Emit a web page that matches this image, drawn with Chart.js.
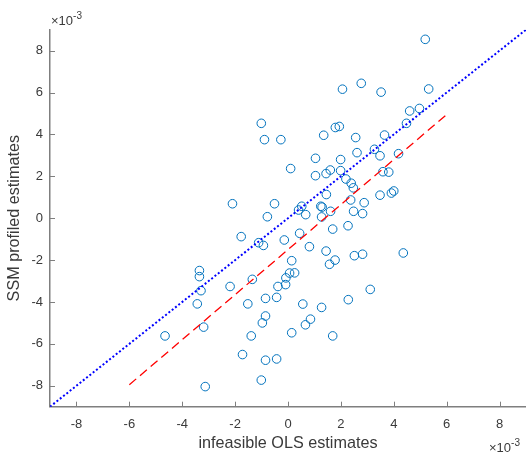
<!DOCTYPE html>
<html>
<head>
<meta charset="utf-8">
<script src="https://cdn.jsdelivr.net/npm/chart.js@4/dist/chart.umd.min.js"></script>
<style>
  html, body { margin: 0; padding: 0; background: #fff; }
  #wrap { width: 526px; height: 458px; }
</style>
</head>
<body>
<div id="wrap"><canvas id="chart"></canvas></div>
<script>
// values in units of 1e-3
const olsEst = [
  -1.01, -0.89, -0.27, 0.10, -2.10, -0.51, -0.78, 1.04, 1.04, 5.19,
  2.77, 2.06, 3.52, 5.32, 4.60, 4.97, 4.48, 1.79, 1.94, 1.35,
  2.56, 3.65, 3.27, 2.61, 3.48, 4.18, 1.99, 1.44, 1.60, 1.99,
  3.59, 3.81, 2.19, 2.39, 2.47, 1.45, 3.48, 3.91, 4.00, 2.37,
  2.88, 0.52, 0.40, 1.24, 1.29, 0.67, 1.61, 2.48, 2.82, 1.27,
  -1.77, -1.11, -0.93, -0.14, 0.44, 1.69, 2.27, 0.81, 1.44, 2.51,
  2.82, 4.36, 1.57, 1.78, 0.14, -3.35, -3.35, -3.29, -2.19, -1.35,
  -0.38, -0.09, -0.08, 0.06, 0.25, -3.43, -1.52, -0.85, -0.43, -0.85,
  -0.97, -3.19, -4.65, -1.39, 0.14, -1.72, -0.85, -0.43, -1.01, -3.13,
  0.56, 1.27, 2.28, 3.11, 0.85, 0.66, 1.69
];
const ssmEst = [
  4.53, 3.75, 3.75, 2.37, 0.69, 0.69, 0.07, 2.86, 2.03, 8.54,
  6.44, 6.16, 6.02, 6.17, 5.12, 5.24, 4.53, 4.33, 4.38, 3.96,
  3.85, 3.97, 3.29, 3.13, 2.98, 3.08, 2.80, 2.13, 2.30, 2.27,
  2.22, 2.20, 1.87, 1.67, 1.45, 1.13, 1.10, 1.20, 1.30, 0.87,
  0.74, 0.57, 0.39, 0.57, 0.53, 0.17, 0.33, 0.33, 0.22, 0.06,
  -0.88, -1.17, -1.30, -1.04, -0.72, -0.52, -0.36, -1.36, -1.57, -1.79,
  -1.72, -1.66, -2.20, -2.00, -2.03, -2.50, -2.79, -3.46, -3.26, -2.92,
  -3.26, -3.17, -2.85, -2.62, -2.61, -4.09, -4.09, -3.83, -3.78, -4.67,
  -5.00, -5.20, -5.62, -5.62, -5.47, -6.51, -6.78, -6.72, -7.73, -8.04,
  -4.10, -4.26, -3.89, -3.40, -4.82, -5.09, -5.62
];
// 45 degree reference line and fitted line
const diagX = [-9, 9];
const diagY = [-9, 9];
const fitX = [-6, 6];
const fitY = [-7.95, 4.95];

const tickVals = [-8, -6, -4, -2, 0, 2, 4, 6, 8];
const axisMin = -9, axisMax = 9;

const axisColor = '#7f7f7f';
const textColor = '#3a3a3a';
const markerColor = '#0072BD';

Chart.defaults.font.family = '"Liberation Sans", Arial, Helvetica, sans-serif';
Chart.defaults.color = textColor;

const toPts = (xs, ys) => xs.map((v, i) => ({x: v, y: ys[i]}));

function drawExp(ctx, x, y) {
  ctx.font = '13px "Liberation Sans", Arial, sans-serif';
  ctx.fillStyle = textColor;
  ctx.textAlign = 'left';
  ctx.textBaseline = 'alphabetic';
  ctx.fillText('\u00d710', x, y);
  const w = ctx.measureText('\u00d710').width;
  ctx.font = '10px "Liberation Sans", Arial, sans-serif';
  ctx.fillText('-3', x + w, y - 6);
}

// MATLAB-style inward tick marks + exponent labels
const extras = {
  id: 'extras',
  afterDraw(chart) {
    const {ctx, chartArea, scales} = chart;
    ctx.save();
    ctx.strokeStyle = axisColor;
    ctx.lineWidth = 1;
    ctx.beginPath();
    tickVals.forEach(v => {
      const px = Math.round(scales.x.getPixelForValue(v)) + 0.5;
      ctx.moveTo(px, chartArea.bottom);
      ctx.lineTo(px, chartArea.bottom - 5);
      const py = Math.round(scales.y.getPixelForValue(v)) + 0.5;
      ctx.moveTo(chartArea.left, py);
      ctx.lineTo(chartArea.left + 5, py);
    });
    ctx.stroke();
    drawExp(ctx, chartArea.left + 1, 25);
    drawExp(ctx, 489, 452);
    ctx.restore();
  }
};

new Chart(document.getElementById('chart'), {
  type: 'scatter',
  data: {
    datasets: [
      {
        label: '45 degree',
        data: toPts(diagX, diagY),
        showLine: true,
        borderColor: '#0000ff',
        borderWidth: 2,
        borderDash: [2, 2.2],
        pointRadius: 0,
        fill: false
      },
      {
        label: 'fit',
        data: toPts(fitX, fitY),
        showLine: true,
        borderColor: '#ff0000',
        borderWidth: 1.3,
        borderDash: [9, 5],
        pointRadius: 0,
        fill: false
      },
      {
        label: 'estimates',
        data: toPts(olsEst, ssmEst),
        pointStyle: 'circle',
        pointRadius: 4.3,
        pointBorderWidth: 1,
        borderColor: markerColor,
        backgroundColor: 'rgba(0,0,0,0)'
      }
    ]
  },
  options: {
    responsive: true,
    maintainAspectRatio: false,
    animation: false,
    layout: { autoPadding: false, padding: { top: 29.7, right: 0, left: 0, bottom: 0 } },
    plugins: { legend: { display: false }, tooltip: { enabled: false } },
    scales: {
      x: {
        type: 'linear',
        min: axisMin,
        max: axisMax,
        afterBuildTicks: s => { s.ticks = tickVals.map(v => ({value: v})); },
        afterFit: s => { s.height = 51.3; s.paddingLeft = 0; s.paddingRight = 0; },
        grid: { display: false, drawTicks: false },
        border: { display: true, color: axisColor, width: 1.5 },
        ticks: { padding: 10, font: { size: 13 }, color: textColor, maxRotation: 0 },
        title: { display: true, text: 'infeasible OLS estimates', font: { size: 16.2 }, color: textColor, padding: { top: 0, bottom: 5 } }
      },
      y: {
        type: 'linear',
        min: axisMin,
        max: axisMax,
        afterBuildTicks: s => { s.ticks = tickVals.map(v => ({value: v})); },
        afterFit: s => { s.width = 50; s.paddingTop = 0; s.paddingBottom = 0; },
        grid: { display: false, drawTicks: false },
        border: { display: true, color: axisColor, width: 1.5 },
        ticks: { padding: 7, font: { size: 13 }, color: textColor },
        title: { display: true, text: 'SSM profiled estimates', font: { size: 16.2 }, color: textColor, padding: { top: 5, bottom: 0 } }
      }
    }
  },
  plugins: [extras]
});
</script>
</body>
</html>
